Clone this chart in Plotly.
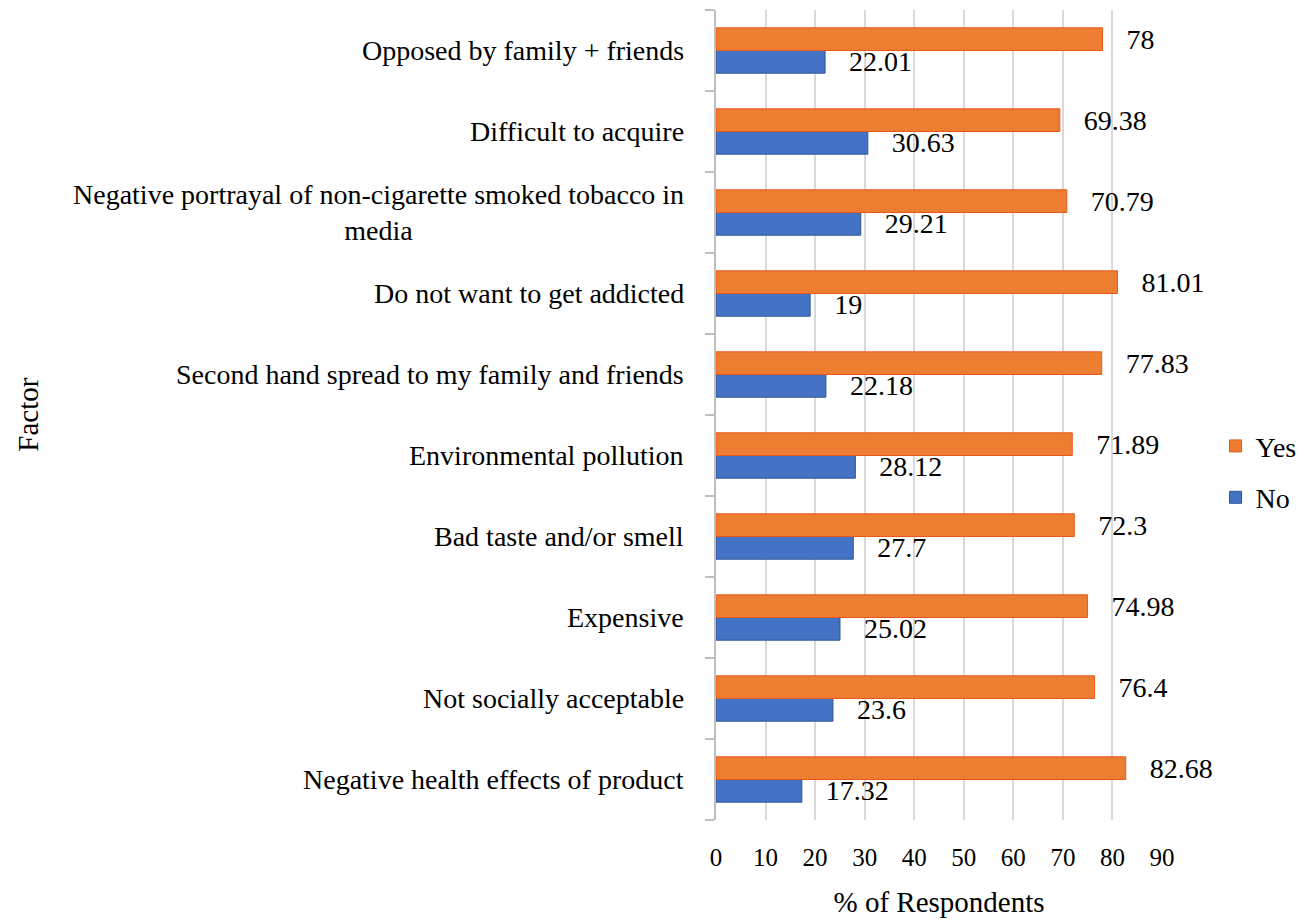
import plotly.graph_objects as go

# Factors, listed bottom to top as they appear on the category axis
factors = [
    "Negative health effects of product",
    "Not socially acceptable",
    "Expensive",
    "Bad taste and/or smell",
    "Environmental pollution",
    "Second hand spread to my family and friends",
    "Do not want to get addicted",
    "Negative portrayal of non-cigarette smoked tobacco in<br>media",
    "Difficult to acquire",
    "Opposed by family + friends",
]
yes_pct = [82.68, 76.4, 74.98, 72.3, 71.89, 77.83, 81.01, 70.79, 69.38, 78]
no_pct = [17.32, 23.6, 25.02, 27.7, 28.12, 22.18, 19, 29.21, 30.63, 22.01]
x_ticks = [0, 10, 20, 30, 40, 50, 60, 70, 80, 90]

FONT = "Liberation Serif, Times New Roman, serif"
PAD = "\u00a0" * 3

fig = go.Figure()
fig.add_trace(go.Bar(
    y=list(range(len(factors))), x=no_pct, orientation="h", name="No",
    marker=dict(color="#4472C4", line=dict(color="#2F5597", width=1)),
    text=[PAD + f"{v:g}" for v in no_pct], textposition="outside",
    textfont=dict(family=FONT, size=28, color="black"),
    constraintext="none", cliponaxis=False,
    legendgroup="no", legendrank=2,
))
fig.add_trace(go.Bar(
    y=list(range(len(factors))), x=yes_pct, orientation="h", name="Yes",
    marker=dict(color="#ED7D31", line=dict(color="#E8581C", width=1)),
    text=[PAD + f"{v:g}" for v in yes_pct], textposition="outside",
    textfont=dict(family=FONT, size=28, color="black"),
    constraintext="none", cliponaxis=False,
    legendgroup="yes", legendrank=1,
))

# Category labels: right-anchored blocks, wrapped lines centred
annotations = []
for i, name in enumerate(factors):
    annotations.append(dict(
        x=0, xref="paper", y=i, yref="y", text=name, showarrow=False,
        xanchor="right", yanchor="middle", align="center", xshift=-30,
        font=dict(family=FONT, size=28, color="black"),
    ))
# Vertical "Factor" title near the left edge of the page
annotations.append(dict(
    x=(20 - 716) / 451, xref="paper", y=0.5, yref="paper", text="Factor",
    textangle=-90, showarrow=False, xanchor="center", yanchor="middle",
    font=dict(family=FONT, size=29, color="black"),
))

fig.update_layout(
    width=1311, height=922,
    margin=dict(l=716, r=144, t=10, b=100),
    paper_bgcolor="white", plot_bgcolor="white",
    barmode="group", bargap=0.44, bargroupgap=0,
    font=dict(family=FONT, size=28, color="black"),
    showlegend=True,
    legend=dict(
        x=1.12, y=0.43, xanchor="left", yanchor="middle",
        traceorder="grouped", tracegroupgap=12,
        font=dict(family=FONT, size=28, color="black"),
        itemwidth=30,
    ),
    annotations=annotations,
)
fig.update_xaxes(
    range=[0, 90], tickvals=x_ticks, showgrid=True, gridcolor="#D9D9D9",
    gridwidth=2, zeroline=False, showline=False, ticks="",
    ticklabelstandoff=20,
    tickfont=dict(family=FONT, size=25, color="black"),
    title=dict(text="% of Respondents", standoff=21,
               font=dict(family=FONT, size=29, color="black")),
)
fig.update_yaxes(
    range=[-0.5, len(factors) - 0.5], tickmode="array",
    tickvals=list(range(len(factors))), showticklabels=False,
    showgrid=False, zeroline=False,
    showline=True, linecolor="#BFBFBF", linewidth=2,
    minor=dict(tickmode="linear", tick0=-0.5, dtick=1, ticks="outside",
               ticklen=9, tickcolor="#BFBFBF", tickwidth=2),
    ticks="",
)
fig.write_html("out.html")
